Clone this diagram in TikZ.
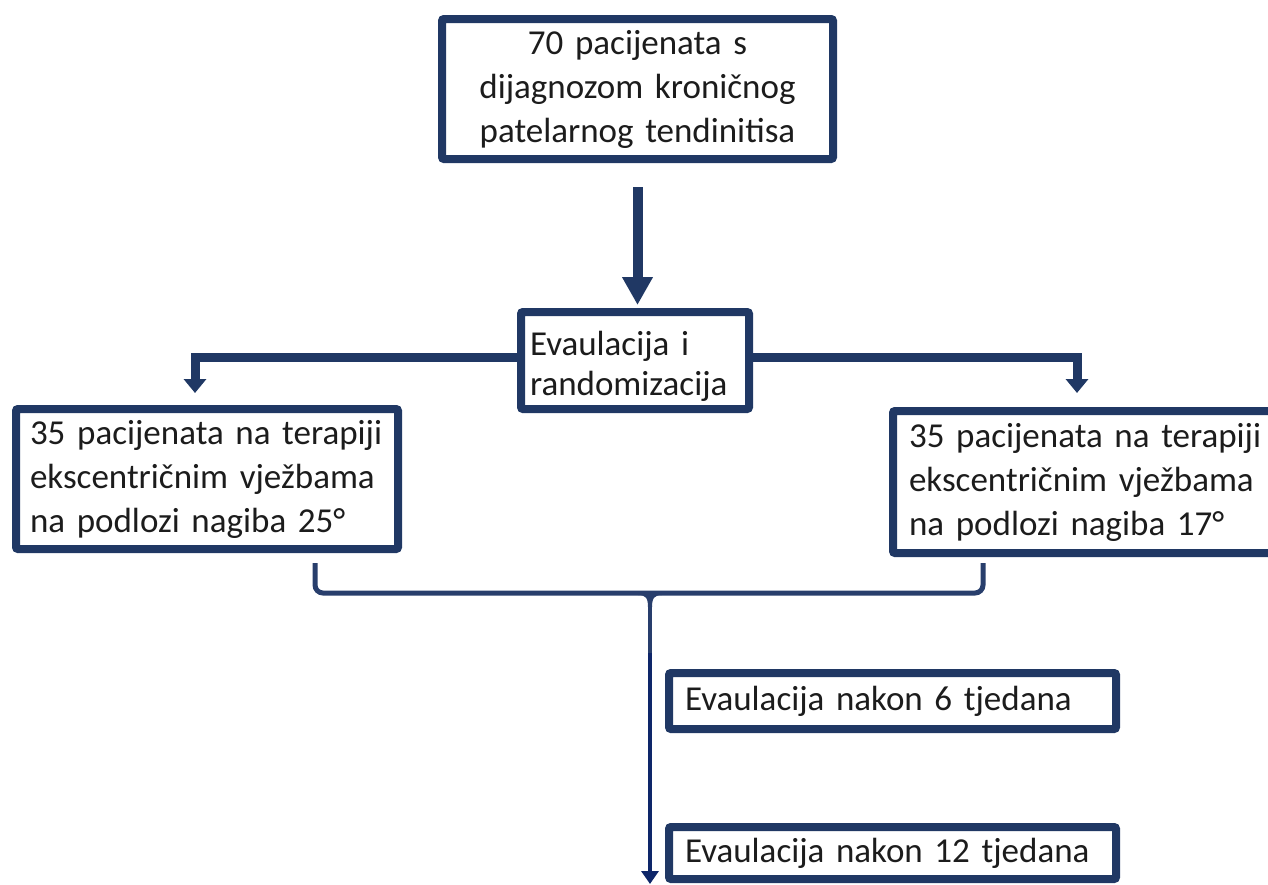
\documentclass[tikz,border=0pt]{standalone}
\usepackage{fontspec}
\setmainfont{Carlito}[WordSpace={0.8}]
\usetikzlibrary{arrows.meta,calc}
\definecolor{boxnavy}{RGB}{32,56,100}
\definecolor{brknavy}{RGB}{40,62,108}
\definecolor{arrnavy}{RGB}{14,38,105}
\definecolor{txt}{RGB}{28,28,28}
\begin{document}
\begin{tikzpicture}[x=1pt,y=-1pt,
  boxstyle/.style={draw=boxnavy, line width=8pt, rounded corners=2pt, fill=white,
    text=txt, font=\fontsize{35pt}{44pt}\selectfont, inner ysep=0pt},
  thickarrow/.style={draw=boxnavy, line width=10pt, -{Triangle[width=29pt,length=28pt]}},
  sidearrow/.style={draw=boxnavy, line width=9pt, -{Triangle[width=22pt,length=14pt]}},
  bracketline/.style={draw=brknavy, line width=5pt, rounded corners=8pt},
  thinarrow/.style={draw=arrnavy, line width=4pt, -{Triangle[width=17pt,length=13pt]}}
]
\useasboundingbox (0,0) rectangle (1268,884);

\node[boxstyle, minimum width=391pt, minimum height=140pt, text width=371pt, inner xsep=10pt, align=center]
  (top) at (637.5,89) {70 pacijenata s\\dijagnozom kroničnog\\patelarnog tendinitisa};

\node[boxstyle, minimum width=228pt, minimum height=97pt, text width=210pt, inner xsep=9pt, align=left,
  font=\fontsize{35pt}{40pt}\selectfont]
  (rand) at (635,360.5) {\rule{0pt}{36pt}Evaulacija i\\randomizacija};

\node[boxstyle, minimum width=382pt, minimum height=140pt, text width=354pt, inner xsep=14pt, align=left]
  (left) at (207,479) {\mbox{35 pacijenata na terapiji}\\ekscentričnim vježbama\\na podlozi nagiba 25°};

\node[boxstyle, minimum width=402pt, minimum height=142pt, text width=370pt, inner xsep=16pt, align=left]
  (right) at (1094,482) {35 pacijenata na terapiji\\ekscentričnim vježbama\\na podlozi nagiba 17°};

\node[boxstyle, minimum width=447pt, minimum height=56pt, text width=415pt, inner xsep=16pt, align=left]
  (ev6) at (892.5,701) {Evaulacija nakon 6 tjedana};

\node[boxstyle, minimum width=447pt, minimum height=52pt, text width=415pt, inner xsep=16pt, align=left]
  (ev12) at (892.5,853) {Evaulacija nakon 12 tjedana};

% top arrow
\draw[thickarrow, shorten <=24pt, shorten >=3pt] (top.south) -- (top.south |- rand.north);

% side arrows
\coordinate (lt) at (195,393);
\coordinate (rt) at (1077,393);
\draw[sidearrow] ([yshift=3.5pt]rand.west) -| (lt);
\draw[sidearrow] ([yshift=3.5pt]rand.east) -| (rt);

% bracket
\coordinate (bl) at (315,563);
\coordinate (br) at (983,563);
\coordinate (junc) at (650,593);
\coordinate (stem) at (650,653);
\coordinate (bot) at (650,884);
\draw[bracketline] (bl) |- (junc) -| (br);
\draw[draw=brknavy, line width=4pt] (638,593) .. controls (647,593) and (650,597) .. (650,607);
\draw[draw=brknavy, line width=4pt] (662,593) .. controls (653,593) and (650,597) .. (650,607);
\draw[draw=brknavy, line width=4.5pt] (junc) -- (stem);
\draw[thinarrow] (stem) -- (bot);
\end{tikzpicture}
\end{document}
